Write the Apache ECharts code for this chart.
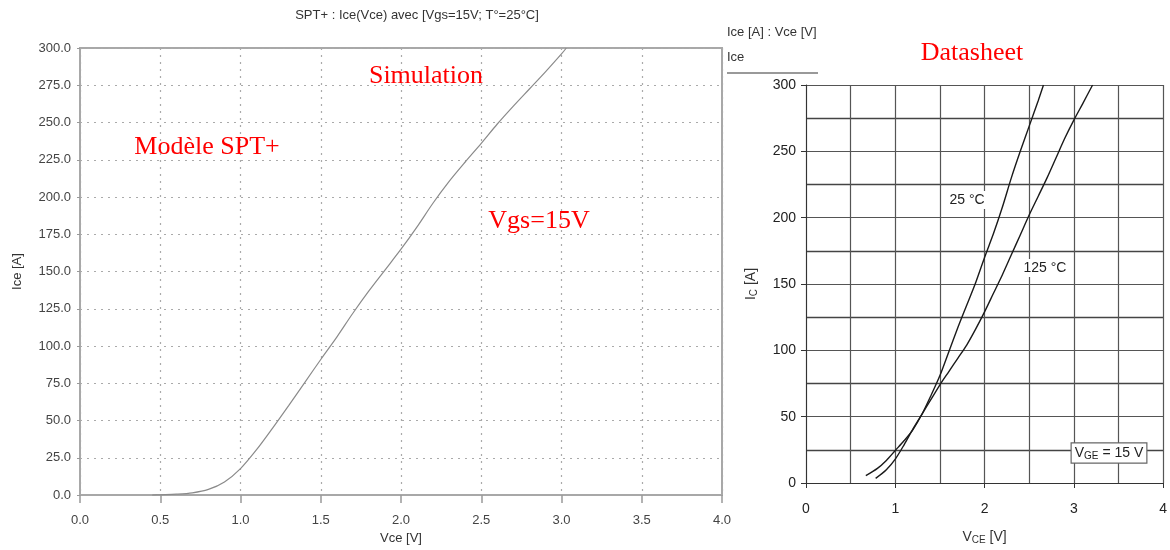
<!DOCTYPE html>
<html><head><meta charset="utf-8">
<script src="https://cdn.jsdelivr.net/npm/echarts@6/dist/echarts.min.js"></script>
<style>html,body{margin:0;padding:0;background:#fff}#c{width:1170px;height:550px}</style>
</head><body><div id="c"></div>
<script>
// ---- Simulation (SPT+ model), Vgs=15V, T=25°C ----
const simVce = [0.45, 0.5, 0.6, 0.7, 0.8, 0.9, 1.0, 1.1, 1.2, 1.3, 1.4, 1.5, 1.6, 1.7, 1.8, 1.9, 2.0, 2.1, 2.2, 2.3, 2.4, 2.5, 2.6, 2.7, 2.8, 2.9, 3.0, 3.03];
const simIce = [0, 0.2, 0.6, 1.5, 3.8, 8.8, 17.8, 30.5, 45, 60, 75.5, 91, 106, 122, 137, 151, 165, 180, 196, 210.5, 223.5, 236, 249, 261, 272.5, 284, 296, 300];

// ---- Datasheet curves ----
const ds25Vce = [0.67, 0.8, 0.9, 1.0, 1.1, 1.2, 1.3, 1.4, 1.5, 1.6, 1.7, 1.8, 1.9, 2.0, 2.1, 2.2, 2.3, 2.4, 2.5, 2.6, 2.66];
const ds25Ic  = [5.5, 11, 17, 24.5, 32, 40.5, 52, 66, 81, 99, 117, 134, 151, 170, 188, 208, 230, 250, 269, 288, 300];
const ds125Vce = [0.78, 0.9, 1.0, 1.1, 1.2, 1.3, 1.4, 1.5, 1.6, 1.7, 1.8, 1.9, 2.0, 2.1, 2.2, 2.3, 2.4, 2.5, 2.6, 2.7, 2.8, 2.9, 3.0, 3.1, 3.21];
const ds125Ic  = [3.5, 10, 18, 29, 41, 52, 63, 74, 84, 94, 104, 116, 129, 143, 157, 172, 187, 202, 216, 230, 245, 260, 273.5, 286, 300];

const chart = echarts.init(document.getElementById('c'), null, {renderer: 'canvas'});
const zip = (a, b) => a.map((v, i) => [v, b[i]]);
const sans = 'Liberation Sans, Arial, sans-serif';
const serif = 'Liberation Serif, Times New Roman, serif';

chart.setOption({
  animation: false,
  backgroundColor: '#fff',
  grid: [
    {left: 80, right: 448, top: 48, bottom: 52, show: true, borderColor: '#a8a8a8', borderWidth: 2, backgroundColor: '#fff'},
    {left: 806, right: 5, top: 85, bottom: 67, show: false}
  ],
  xAxis: [
    {
      gridIndex: 0, type: 'value', min: 0, max: 4, interval: 0.5, offset: 3,
      name: 'Vce [V]', nameLocation: 'middle', nameGap: 33,
      nameTextStyle: {fontFamily: sans, fontSize: 13, color: '#333'},
      axisLine: {show: true, lineStyle: {color: '#a8a8a8', width: 1.5}},
      axisTick: {show: true, length: 8, lineStyle: {color: '#999', width: 1.5}},
      axisLabel: {margin: 16, fontFamily: sans, fontSize: 13, color: '#444', formatter: v => v.toFixed(1)},
      splitLine: {show: true, lineStyle: {color: '#aaa', type: [2, 5], width: 1.2}}
    },
    {
      gridIndex: 1, type: 'value', min: 0, max: 4, interval: 1,
      name: '{a|V}{s|CE}{a| [V]}', nameLocation: 'middle', nameGap: 46,
      nameTextStyle: {rich: {a: {fontFamily: sans, fontSize: 14, color: '#333'}, s: {fontFamily: sans, fontSize: 10, color: '#333', verticalAlign: 'bottom', padding: [6, 0, 0, 0]}}},
      axisLine: {show: true, lineStyle: {color: '#333', width: 1}},
      axisTick: {show: true, length: 5, lineStyle: {color: '#333'}},
      minorTick: {show: false, splitNumber: 2},
      axisLabel: {margin: 19, fontFamily: sans, fontSize: 14, color: '#222', formatter: v => String(v)},
      splitLine: {show: true, lineStyle: {color: '#555', width: 1.2}},
      minorSplitLine: {show: true, lineStyle: {color: '#555', width: 1.2}}
    }
  ],
  yAxis: [
    {
      gridIndex: 0, type: 'value', min: 0, max: 300, interval: 25, offset: 3,
      name: 'Ice [A]', nameLocation: 'middle', nameGap: 53, nameRotate: 90,
      nameTextStyle: {fontFamily: sans, fontSize: 13, color: '#333'},
      axisLine: {show: true, lineStyle: {color: '#a8a8a8', width: 1.5}},
      axisTick: {show: true, length: 3, lineStyle: {color: '#999'}},
      axisLabel: {margin: 6, fontFamily: sans, fontSize: 13, color: '#444', formatter: v => v.toFixed(1)},
      splitLine: {show: true, lineStyle: {color: '#aaa', type: [2, 5], width: 1.2}}
    },
    {
      gridIndex: 1, type: 'value', min: 0, max: 300, interval: 50,
      name: '{a|I}{s|C}{a| [A]}', nameLocation: 'middle', nameGap: 47, nameRotate: 90,
      nameTextStyle: {rich: {a: {fontFamily: sans, fontSize: 14, color: '#333'}, s: {fontFamily: sans, fontSize: 10, color: '#333', verticalAlign: 'bottom', padding: [6, 0, 0, 0]}}},
      axisLine: {show: true, lineStyle: {color: '#333', width: 1}},
      axisTick: {show: true, length: 5, lineStyle: {color: '#333'}},
      minorTick: {show: false, splitNumber: 2},
      axisLabel: {margin: 10, fontFamily: sans, fontSize: 14, color: '#222', formatter: v => String(v)},
      splitLine: {show: true, lineStyle: {color: '#555', width: 1.2}},
      minorSplitLine: {show: true, lineStyle: {color: '#444', width: 1.4}}
    }
  ],
  series: [
    {type: 'line', xAxisIndex: 0, yAxisIndex: 0, data: zip(simVce, simIce), showSymbol: false, smooth: 0.3,
     lineStyle: {color: '#8a8a8a', width: 1.2}, z: 5},
    {type: 'line', xAxisIndex: 1, yAxisIndex: 1, data: zip(ds25Vce, ds25Ic), showSymbol: false, smooth: 0.3,
     lineStyle: {color: '#1a1a1a', width: 1.4}, z: 5},
    {type: 'line', xAxisIndex: 1, yAxisIndex: 1, data: zip(ds125Vce, ds125Ic), showSymbol: false, smooth: 0.3,
     lineStyle: {color: '#1a1a1a', width: 1.4}, z: 5}
  ],
  graphic: [
    {type: 'text', x: 417, y: 15, style: {text: 'SPT+ : Ice(Vce) avec [Vgs=15V; T°=25°C]', font: '13px ' + sans, fill: '#333', align: 'center', verticalAlign: 'middle'}},
    {type: 'text', x: 727, y: 32, style: {text: 'Ice [A] : Vce [V]', font: '13px ' + sans, fill: '#333', align: 'left', verticalAlign: 'middle'}},
    {type: 'text', x: 727, y: 57, style: {text: 'Ice', font: '13px ' + sans, fill: '#333', align: 'left', verticalAlign: 'middle'}},
    {type: 'line', shape: {x1: 727, y1: 73, x2: 818, y2: 73}, style: {stroke: '#999', lineWidth: 2}},
    {type: 'text', x: 426, y: 76, z: 10, style: {text: 'Simulation', font: '26px ' + serif, fill: '#ff0000', align: 'center', verticalAlign: 'middle'}},
    {type: 'text', x: 207, y: 147, z: 10, style: {text: 'Modèle SPT+', font: '26px ' + serif, fill: '#ff0000', align: 'center', verticalAlign: 'middle'}},
    {type: 'text', x: 539, y: 221, z: 10, style: {text: 'Vgs=15V', font: '26px ' + serif, fill: '#ff0000', align: 'center', verticalAlign: 'middle'}},
    {type: 'text', x: 972, y: 53, z: 10, style: {text: 'Datasheet', font: '26px ' + serif, fill: '#ff0000', align: 'center', verticalAlign: 'middle'}},
    {type: 'text', x: 967, y: 200, z: 10, style: {text: '25 °C', font: '14px ' + sans, fill: '#222', align: 'center', verticalAlign: 'middle', backgroundColor: '#fff', padding: [2, 2]}},
    {type: 'text', x: 1045, y: 268, z: 10, style: {text: '125 °C', font: '14px ' + sans, fill: '#222', align: 'center', verticalAlign: 'middle', backgroundColor: '#fff', padding: [2, 2]}},
    {type: 'text', x: 1109, y: 453, z: 10, style: {
      text: '{a|V}{s|GE}{a| = 15 V}', align: 'center', verticalAlign: 'middle',
      backgroundColor: '#fff', borderColor: '#666', borderWidth: 1.2, padding: [2, 3, 1, 3],
      rich: {a: {fontFamily: sans, fontSize: 14, fill: '#222'}, s: {fontFamily: sans, fontSize: 10, fill: '#222', verticalAlign: 'bottom', padding: [6, 0, 0, 0]}}
    }}
  ]
});
</script>
</body></html>
